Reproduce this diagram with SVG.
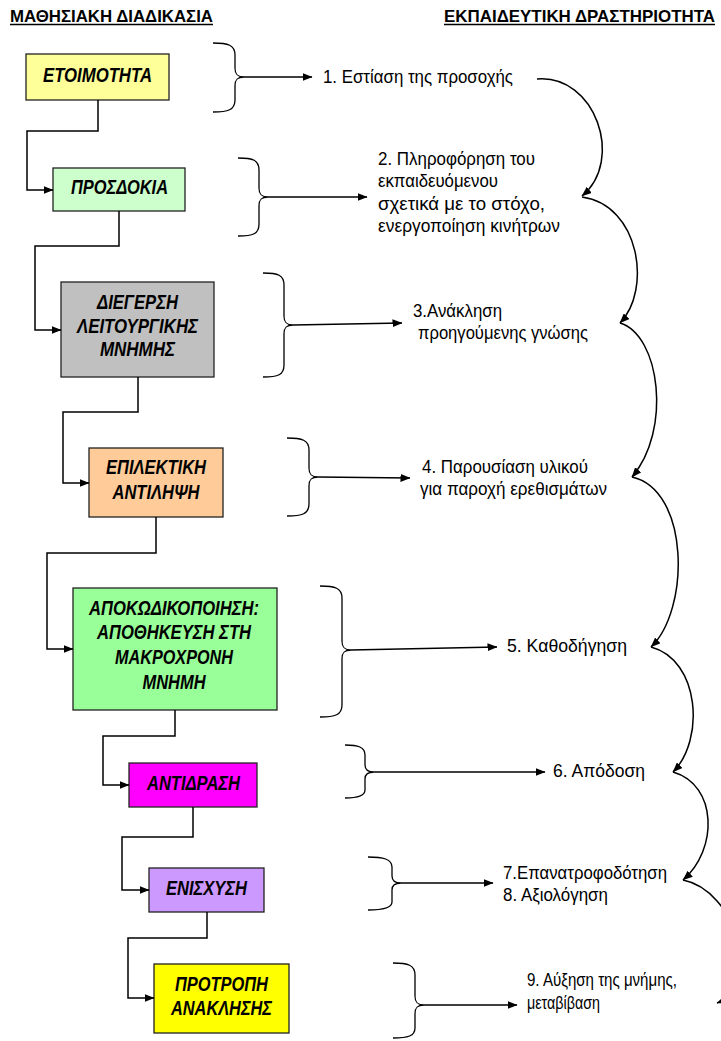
<svg xmlns="http://www.w3.org/2000/svg" width="721" height="1041" viewBox="0 0 721 1041">
<style>
.hdr{font-family:"Liberation Sans",Arial,sans-serif;font-weight:bold;font-size:17px;fill:#000}
.box{stroke:#222;stroke-width:1.3}
.bt{font-family:"Liberation Sans",Arial,sans-serif;font-weight:bold;font-style:italic;font-size:19.5px;fill:#000;text-anchor:middle}
.rt{font-family:"Liberation Sans",Arial,sans-serif;font-size:17.5px;fill:#000}
.ln{fill:none;stroke:#000;stroke-width:1.5}
.br{fill:none;stroke:#000;stroke-width:1.3}
</style>
<defs>
<marker id="ah" markerWidth="10" markerHeight="8" refX="9.5" refY="4" orient="auto" markerUnits="userSpaceOnUse"><path d="M0,0 L10,4 L0,8 z" fill="#000"/></marker>
</defs>
<rect width="721" height="1041" fill="#fff"/>
<g id="headers">
<text class="hdr" x="10" y="22" textLength="203" lengthAdjust="spacingAndGlyphs">ΜΑΘΗΣΙΑΚΗ ΔΙΑΔΙΚΑΣΙΑ</text>
<line x1="10" y1="24.5" x2="213" y2="24.5" stroke="#000" stroke-width="1.3"/>
<text class="hdr" x="444" y="22" textLength="271" lengthAdjust="spacingAndGlyphs">ΕΚΠΑΙΔΕΥΤΙΚΗ ΔΡΑΣΤΗΡΙΟΤΗΤΑ</text>
<line x1="444" y1="24.5" x2="715" y2="24.5" stroke="#000" stroke-width="1.3"/>
</g>
<g id="node1"><rect class="box" x="26" y="54" width="143" height="46" fill="#FFFF99"/><text class="bt" x="97.5" y="82" textLength="109" lengthAdjust="spacingAndGlyphs">ΕΤΟΙΜΟΤΗΤΑ</text></g>
<g id="node2"><rect class="box" x="53" y="168" width="132" height="43" fill="#CCFFCC"/><text class="bt" x="119.5" y="194" textLength="97" lengthAdjust="spacingAndGlyphs">ΠΡΟΣΔΟΚΙΑ</text></g>
<g id="node3"><rect class="box" x="61" y="282" width="153" height="95" fill="#C0C0C0"/>
<text class="bt" x="137.5" y="309" textLength="81" lengthAdjust="spacingAndGlyphs">ΔΙΕΓΕΡΣΗ</text>
<text class="bt" x="137.5" y="333" textLength="121" lengthAdjust="spacingAndGlyphs">ΛΕΙΤΟΥΡΓΙΚΗΣ</text>
<text class="bt" x="137.5" y="356" textLength="75" lengthAdjust="spacingAndGlyphs">ΜΝΗΜΗΣ</text></g>
<g id="node4"><rect class="box" x="89" y="448" width="134" height="69" fill="#FFCC99"/>
<text class="bt" x="156" y="474" textLength="100" lengthAdjust="spacingAndGlyphs">ΕΠΙΛΕΚΤΙΚΗ</text>
<text class="bt" x="156" y="499" textLength="87" lengthAdjust="spacingAndGlyphs">ΑΝΤΙΛΗΨΗ</text></g>
<g id="node5"><rect class="box" x="73" y="588" width="204" height="122" fill="#99FF99"/>
<text class="bt" x="174" y="615" textLength="170" lengthAdjust="spacingAndGlyphs">ΑΠΟΚΩΔΙΚΟΠΟΙΗΣΗ:</text>
<text class="bt" x="174" y="639" textLength="154" lengthAdjust="spacingAndGlyphs">ΑΠΟΘΗΚΕΥΣΗ ΣΤΗ</text>
<text class="bt" x="174" y="664" textLength="118" lengthAdjust="spacingAndGlyphs">ΜΑΚΡΟΧΡΟΝΗ</text>
<text class="bt" x="174" y="689" textLength="63" lengthAdjust="spacingAndGlyphs">ΜΝΗΜΗ</text></g>
<g id="node6"><rect class="box" x="129" y="763" width="128" height="44" fill="#FF00FF"/><text class="bt" x="193.5" y="790" textLength="93" lengthAdjust="spacingAndGlyphs">ΑΝΤΙΔΡΑΣΗ</text></g>
<g id="node7"><rect class="box" x="149" y="868" width="115" height="44" fill="#CC99FF"/><text class="bt" x="206.5" y="895" textLength="81" lengthAdjust="spacingAndGlyphs">ΕΝΙΣΧΥΣΗ</text></g>
<g id="node8"><rect class="box" x="154" y="964" width="135" height="69" fill="#FFFF00"/>
<text class="bt" x="221.5" y="991" textLength="93" lengthAdjust="spacingAndGlyphs">ΠΡΟΤΡΟΠΗ</text>
<text class="bt" x="221.5" y="1015" textLength="101" lengthAdjust="spacingAndGlyphs">ΑΝΑΚΛΗΣΗΣ</text></g>
<g id="activities">
<text class="rt" x="323" y="83" textLength="190" lengthAdjust="spacingAndGlyphs">1. Εστίαση της προσοχής</text>
<text class="rt" x="378" y="165" textLength="157" lengthAdjust="spacingAndGlyphs">2. Πληροφόρηση του</text>
<text class="rt" x="378" y="187" textLength="120" lengthAdjust="spacingAndGlyphs">εκπαιδευόμενου</text>
<text class="rt" x="378" y="210" textLength="167" lengthAdjust="spacingAndGlyphs">σχετικά με το στόχο,</text>
<text class="rt" x="378" y="232" textLength="182" lengthAdjust="spacingAndGlyphs">ενεργοποίηση κινήτρων</text>
<text class="rt" x="413" y="317" textLength="89" lengthAdjust="spacingAndGlyphs">3.Ανάκληση</text>
<text class="rt" x="418" y="339" textLength="170" lengthAdjust="spacingAndGlyphs">προηγούμενης γνώσης</text>
<text class="rt" x="422" y="473" textLength="166" lengthAdjust="spacingAndGlyphs">4. Παρουσίαση υλικού</text>
<text class="rt" x="420" y="495" textLength="187" lengthAdjust="spacingAndGlyphs">για παροχή ερεθισμάτων</text>
<text class="rt" x="507" y="652" textLength="120" lengthAdjust="spacingAndGlyphs">5. Καθοδήγηση</text>
<text class="rt" x="553" y="777" textLength="92" lengthAdjust="spacingAndGlyphs">6. Απόδοση</text>
<text class="rt" x="503" y="879" textLength="164" lengthAdjust="spacingAndGlyphs">7.Επανατροφοδότηση</text>
<text class="rt" x="503" y="901" textLength="105" lengthAdjust="spacingAndGlyphs">8. Αξιολόγηση</text>
<text class="rt" x="527" y="986" textLength="150" lengthAdjust="spacingAndGlyphs">9. Αύξηση της μνήμης,</text>
<text class="rt" x="527" y="1009" textLength="73" lengthAdjust="spacingAndGlyphs">μεταβίβαση</text>
</g>
<g id="connectors">
<path class="ln" marker-end="url(#ah)" d="M98,100 V131 H27 V190 H53"/>
<path class="ln" marker-end="url(#ah)" d="M119,211 V246 H35 V330 H61"/>
<path class="ln" marker-end="url(#ah)" d="M138,377 V412 H63 V483 H89"/>
<path class="ln" marker-end="url(#ah)" d="M156,517 V553 H47 V649 H73"/>
<path class="ln" marker-end="url(#ah)" d="M175,710 V736 H103 V785 H129"/>
<path class="ln" marker-end="url(#ah)" d="M193,807 V837 H122 V890 H149"/>
<path class="ln" marker-end="url(#ah)" d="M207,912 V938 H128 V998 H154"/>
<path class="br" d="M213,43 C228,43 235,45 235,55 L235,68 C235,75 238,77 244,77 C238,77 235,79 235,86 L235,100 C235,110 228,112 213,112"/>
<path class="br" d="M238,158 C253,158 259,160 259,170 L259,188 C259,195 262,197 268,197 C262,197 259,199 259,206 L259,224 C259,234 253,236 238,236"/>
<path class="br" d="M263,273 C278,273 284,275 284,285 L284,316 C284,323 287,325 293,325 C287,325 284,327 284,334 L284,365 C284,375 278,377 263,377"/>
<path class="br" d="M287,438 C302,438 309,440 309,450 L309,468 C309,475 312,477 318,477 C312,477 309,479 309,486 L309,504 C309,514 302,516 287,516"/>
<path class="br" d="M320,586 C335,586 342,588 342,598 L342,641 C342,648 345,650 351,650 C345,650 342,652 342,659 L342,705 C342,715 335,717 320,717"/>
<path class="br" d="M345,745 C358,745 365,747 365,755 L365,765 C365,770 368,772 374,772 C368,772 365,774 365,779 L365,790 C365,796 358,798 345,798"/>
<path class="br" d="M368,857 C383,857 392,859 392,867 L392,876 C392,881 395,883 401,883 C395,883 392,885 392,890 L392,902 C392,908 383,910 368,910"/>
<path class="br" d="M393,963 C408,963 415,965 415,975 L415,996 C415,1003 418,1005 424,1005 C418,1005 415,1007 415,1014 L415,1028 C415,1036 408,1038 393,1038"/>
<path class="ln" marker-end="url(#ah)" d="M244,77 L312,77"/>
<path class="ln" marker-end="url(#ah)" d="M268,197 L367,197"/>
<path class="ln" marker-end="url(#ah)" d="M293,325 L402,323"/>
<path class="ln" marker-end="url(#ah)" d="M318,477 L410,478"/>
<path class="ln" marker-end="url(#ah)" d="M351,650 L497,647"/>
<path class="ln" marker-end="url(#ah)" d="M374,772 L545,772"/>
<path class="ln" marker-end="url(#ah)" d="M401,883 L493,883"/>
<path class="ln" marker-end="url(#ah)" d="M424,1005 L517,1005"/>
<path class="ln" marker-end="url(#ah)" d="M537,79 C595,74 625,160 582,196"/>
<path class="ln" marker-end="url(#ah)" d="M582,197 C640,205 652,290 620,323"/>
<path class="ln" marker-end="url(#ah)" d="M620,323 C660,335 672,430 632,477"/>
<path class="ln" marker-end="url(#ah)" d="M632,477 C690,490 690,610 651,647"/>
<path class="ln" marker-end="url(#ah)" d="M651,647 C700,660 705,740 673,772"/>
<path class="ln" marker-end="url(#ah)" d="M673,772 C718,785 718,850 683,880"/>
<path class="ln" marker-end="url(#ah)" d="M683,880 C735,890 765,985 717,1003"/>
</g>
</svg>
